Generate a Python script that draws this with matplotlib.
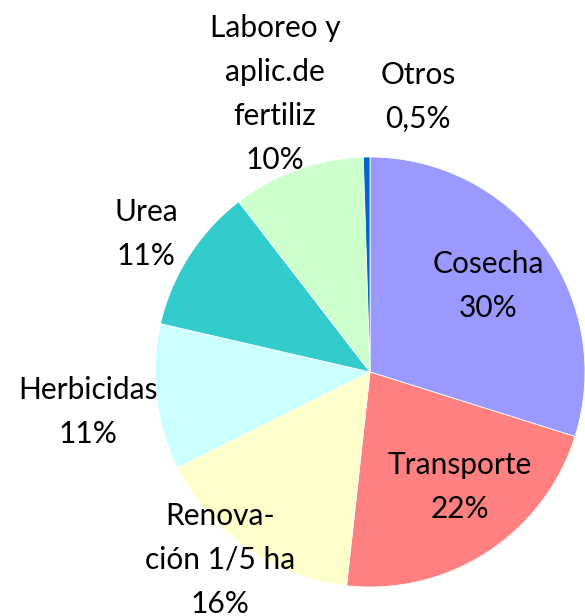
import matplotlib
matplotlib.use("Agg")
import matplotlib.pyplot as plt

categories = ["Cosecha", "Transporte", "Renova-\nción 1/5 ha", "Herbicidas", "Urea",
              "Laboreo y\naplic.de\nfertiliz", "Otros"]
values = [30, 22, 16, 11, 11, 10, 0.5]
pct_labels = ["30%", "22%", "16%", "11%", "11%", "10%", "0,5%"]
colors = ["#9999FF", "#FF8080", "#FFFFCC", "#CCFFFF", "#33CCCC", "#CCFFCC", "#0066CC"]

# label centers in pixel coords (x, y from top)
label_pos = [(488, 286), (460, 487), (220, 560), (88, 412), (146, 234), (275, 94), (418, 97)]

W, H = 585, 616
fig = plt.figure(figsize=(W / 100, H / 100), dpi=100)
ax = fig.add_axes([0, 0, 1, 1])

ax.pie(values, colors=colors, startangle=90, counterclock=False,
       center=(370, H - 372), radius=215, frame=True,
       wedgeprops=dict(edgecolor="white", linewidth=0.6))
ax.set_xlim(0, W)
ax.set_ylim(0, H)
ax.set_aspect("equal")
ax.axis("off")

for cat, pct, (x, y) in zip(categories, pct_labels, label_pos):
    ax.text(x, H - y, cat + "\n" + pct, ha="center", va="center",
            fontsize=21.5, family="Lato", linespacing=1.7, color="black")

fig.savefig("out.png", dpi=100)
